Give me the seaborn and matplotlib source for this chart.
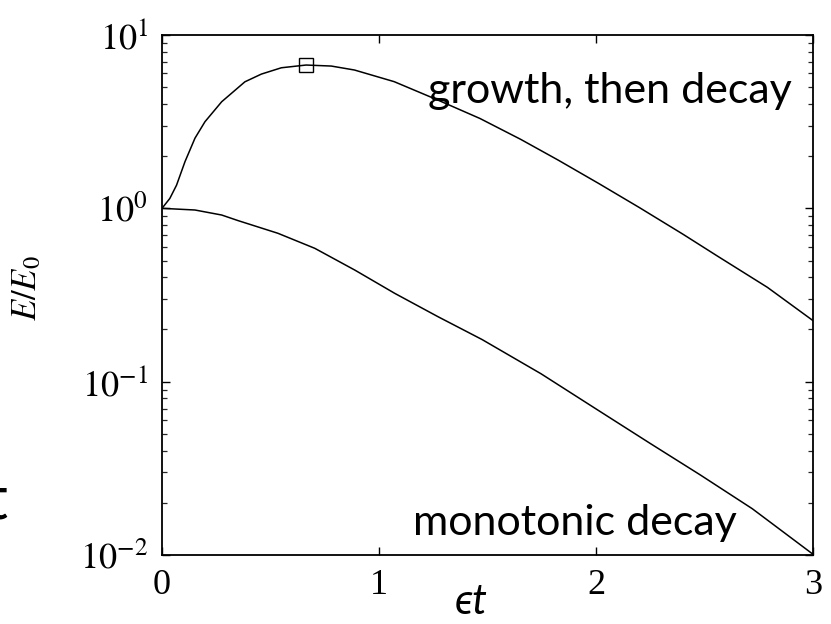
import matplotlib
matplotlib.use("Agg")
import matplotlib.pyplot as plt
import seaborn as sns
import numpy as np
import pandas as pd
from matplotlib.ticker import FixedLocator, FixedFormatter, LogLocator, NullFormatter

# ---- data ----
t_growth = [0.0, 0.036, 0.067, 0.106, 0.152, 0.198, 0.275, 0.382, 0.458, 0.55, 0.664,
            0.78, 0.887, 1.07, 1.27, 1.465, 1.653, 1.825, 2.013, 2.2, 2.4, 2.56, 2.79, 3.0]
e_growth = [1.0, 1.14, 1.36, 1.86, 2.54, 3.16, 4.12, 5.37, 5.95, 6.47, 6.71,
            6.62, 6.28, 5.38, 4.22, 3.30, 2.5, 1.90, 1.39, 1.01, 0.71, 0.53, 0.35, 0.225]
t_mono = [0.0, 0.152, 0.275, 0.35, 0.534, 0.704, 0.889, 1.073, 1.272, 1.475,
          1.747, 2.013, 2.25, 2.48, 2.72, 3.0]
e_mono = [1.0, 0.978, 0.915, 0.85, 0.718, 0.588, 0.44, 0.323, 0.237, 0.175,
          0.111, 0.068, 0.044, 0.029, 0.0185, 0.0101]
peak_t = [0.664]
peak_e = [6.71]

x_ticks = [0, 1, 2, 3]
x_tick_labels = ["0", "1", "2", "3"]
y_ticks = [1e-2, 1e-1, 1e0, 1e1]
y_tick_labels = [r"$10^{-2}$", r"$10^{-1}$", r"$10^{0}$", r"$10^{1}$"]

label_growth = "growth, then decay"
label_mono = "monotonic decay"
x_label = "ϵt"
y_label = r"$E/E_0$"

# ---- figure ----
sns.set_theme(style="ticks")
plt.rcParams["mathtext.fontset"] = "stix"
plt.rcParams["font.family"] = ["Liberation Serif", "DejaVu Serif"]

fig = plt.figure(figsize=(8.31, 6.24), dpi=100)
ax = fig.add_axes([162 / 831, 1 - 555 / 624, 651 / 831, 520 / 624])

df_g = pd.DataFrame({"t": t_growth, "E": e_growth})
df_m = pd.DataFrame({"t": t_mono, "E": e_mono})
sns.lineplot(data=df_g, x="t", y="E", ax=ax, color="black", lw=1.1,
             estimator=None, sort=False)
sns.lineplot(data=df_m, x="t", y="E", ax=ax, color="black", lw=1.1,
             estimator=None, sort=False)
ax.plot(peak_t, peak_e, ls="none", marker="s", ms=10, mfc="none",
        mec="black", mew=1.0)

ax.set_yscale("log")
ax.set_xlim(0, 3)
ax.set_ylim(1e-2, 1e1)

ax.xaxis.set_major_locator(FixedLocator(x_ticks))
ax.xaxis.set_major_formatter(FixedFormatter(x_tick_labels))
ax.yaxis.set_major_locator(FixedLocator(y_ticks))
ax.yaxis.set_major_formatter(FixedFormatter(y_tick_labels))
ax.yaxis.set_minor_locator(LogLocator(base=10, subs=np.arange(2, 10)))
ax.yaxis.set_minor_formatter(NullFormatter())

ax.tick_params(axis="both", which="major", direction="in", length=6, width=1.0,
               top=True, right=True, labelsize=26, colors="black", pad=10)
ax.tick_params(axis="y", which="minor", direction="in", length=3.5, width=0.9,
               left=True, right=True)
ax.tick_params(axis="x", which="minor", bottom=False, top=False)
for s in ax.spines.values():
    s.set_linewidth(1.3)
    s.set_color("black")

ax.set_xlabel(x_label, fontsize=30, style="italic",
              family=["Lato", "DejaVu Sans"], color="black")
ax.xaxis.set_label_coords((471 - 162) / 651, -(614 - 555) / 520, transform=ax.transAxes)
ax.xaxis.label.set_va("baseline")

ax.set_ylabel(y_label, fontsize=25, color="black")
ax.yaxis.set_label_coords(-(162 - 44) / 651, (555 - 288) / 520)

ax.text((792 - 162) / 651, (555 - 103) / 520, label_growth, transform=ax.transAxes,
        ha="right", va="baseline", fontsize=31, family=["Lato", "DejaVu Sans"],
        color="black")
ax.text((413 - 162) / 651, (555 - 535) / 520, label_mono, transform=ax.transAxes,
        ha="left", va="baseline", fontsize=31, family=["Lato", "DejaVu Sans"],
        color="black")

fig.text(8 / 831, 1 - 520 / 624, "t", ha="right", va="baseline", fontsize=44,
         family=["Lato", "DejaVu Sans"], color="black")

fig.savefig("out.png", dpi=100, facecolor="white")
